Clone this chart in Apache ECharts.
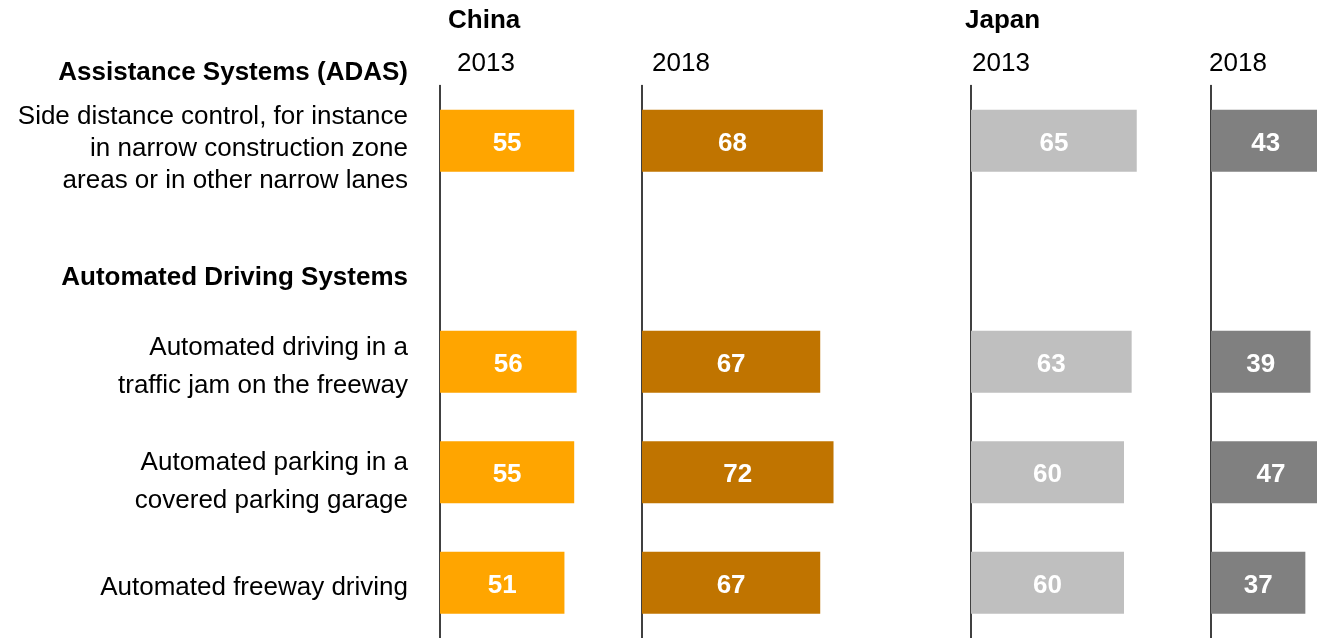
<!DOCTYPE html>
<html>
<head>
<meta charset="utf-8">
<script src="https://cdn.jsdelivr.net/npm/echarts@6/dist/echarts.min.js"></script>
<style>html,body{margin:0;padding:0;background:#fff;}#c{width:1317px;height:638px;}</style>
</head>
<body>
<div id="c"></div>
<script>
const categories = [
  "Side distance control, for instance\nin narrow construction zone\nareas or in other narrow lanes",
  "Automated Driving Systems",
  "Automated driving in a\ntraffic jam on the freeway",
  "Automated parking in a\ncovered parking garage",
  "Automated freeway driving"
];
const headerRows = ["Automated Driving Systems"];
const sectionTitle = "Assistance Systems (ADAS)";
const countries = ["China", "Japan"];
const years = ["2013", "2018", "2013", "2018"];
const china2013 = [55, '-', 56, 55, 51];
const china2018 = [68, '-', 67, 72, 67];
const japan2013 = [65, '-', 63, 60, 60];
const japan2018 = [43, '-', 39, 47, 37];

const FONT = '"Liberation Sans", Arial, sans-serif';
const panels = [
  {data: china2013, color: '#FFA500', left: 440, width: 244, pxPerUnit: 2.44},
  {data: china2018, color: '#C07400', left: 642, width: 266, pxPerUnit: 2.66},
  {data: japan2013, color: '#BFBFBF', left: 971, width: 255, pxPerUnit: 2.55},
  {data: japan2018, color: '#808080', left: 1211, width: 106, pxPerUnit: 2.55}
];
const gridTop = 85.5, gridHeight = 555;
// per-row label layout: line height and spacer height (vertical nudge = spacer/2)
const rowLayout = [
  {lh: 32, sp: 16}, {lh: 32, sp: 54}, {lh: 37.5, sp: 10}, {lh: 37.5, sp: 19}, {lh: 32, sp: 10}
];

function labelFormatter(v, idx) {
  const bold = headerRows.includes(v);
  const key = (bold ? 'b' : 'n') + idx;
  return '{sp' + idx + '| }\n' + v.split('\n').map(line => '{' + key + '|' + line + '}').join('\n');
}
const rich = {};
rowLayout.forEach((L, idx) => {
  rich['sp' + idx] = {fontSize: 1, lineHeight: L.sp, height: L.sp, align: 'right'};
  ['n', 'b'].forEach(t => {
    rich[t + idx] = {fontSize: 26, fontFamily: FONT, color: '#000', lineHeight: L.lh, fontWeight: t === 'b' ? 'bold' : 'normal', align: 'right'};
  });
});

const grid = [], xAxis = [], yAxis = [], series = [];
panels.forEach((p, i) => {
  grid.push({left: p.left, top: gridTop, width: p.width, height: gridHeight, containLabel: false});
  xAxis.push({type: 'value', gridIndex: i, min: 0, max: p.width / p.pxPerUnit, show: false});
  yAxis.push({
    type: 'category', gridIndex: i, data: categories, inverse: true,
    axisLine: {show: true, lineStyle: {color: '#000', width: 1.5}},
    axisTick: {show: false},
    axisLabel: i === 0 ? {
      show: true, margin: 32, fontSize: 26, fontFamily: FONT, color: '#000', align: 'right',
      formatter: labelFormatter, rich: rich
    } : {show: false}
  });
  series.push({
    type: 'bar', xAxisIndex: i, yAxisIndex: i, data: p.data, barWidth: 62, clip: false,
    itemStyle: {color: p.color},
    label: {show: true, position: 'inside', offset: [0, 3], color: '#fff', fontWeight: 'bold', fontSize: 26, fontFamily: FONT},
    silent: true
  });
});

const title = [
  {text: countries[0], left: 448, top: 8},
  {text: countries[1], left: 965, top: 8},
  {text: sectionTitle, right: 909, top: 60},
].map(t => Object.assign(t, {padding: 0, textStyle: {fontSize: 26, fontWeight: 'bold', fontFamily: FONT, color: '#000', lineHeight: 26}}));
const yearLefts = [457, 652, 972, 1209];
years.forEach((y, i) => title.push({text: y, left: yearLefts[i], top: 51, padding: 0,
  textStyle: {fontSize: 26, fontWeight: 'normal', fontFamily: FONT, color: '#000', lineHeight: 26}}));

const chart = echarts.init(document.getElementById('c'), null, {renderer: 'canvas'});
chart.setOption({animation: false, backgroundColor: '#fff', title, grid, xAxis, yAxis, series});
</script>
</body>
</html>
